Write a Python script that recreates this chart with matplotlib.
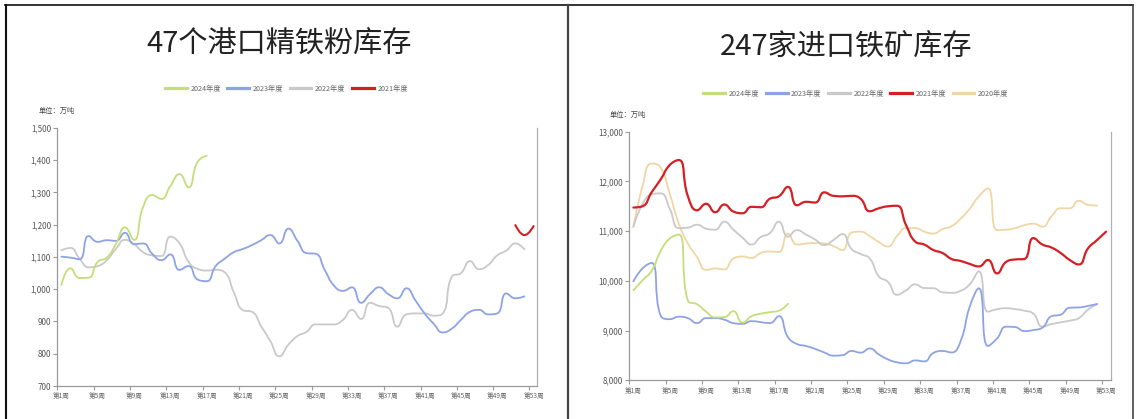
import numpy as np
import matplotlib
matplotlib.use('Agg')
import matplotlib.pyplot as plt
from matplotlib.path import Path
from matplotlib.patches import PathPatch
from matplotlib.lines import Line2D

plt.rcParams['font.family'] = ['Noto Sans CJK SC', 'DejaVu Sans']

# ---------------- data ----------------
tick_weeks = [1, 5, 9, 13, 17, 21, 25, 29, 33, 37, 41, 45, 49, 53]
tick_labels = [f"第{w}周" for w in tick_weeks]

# 47个港口精铁粉库存 (万吨)
p47_2024 = [1013, 1065, 1035, 1036, 1085, 1098, 1140, 1192, 1153, 1255, 1292, 1280,
            1320, 1357, 1316, 1395, 1414]
p47_2023 = [1101, 1098, 1093, 1165, 1147, 1152, 1150, 1175, 1140, 1142, 1110, 1090,
            1108, 1060, 1072, 1030, 1025, 1072, 1095, 1115, 1125, 1137, 1152, 1168,
            1142, 1188, 1150, 1112, 1110, 1060, 1012, 995, 1006, 958, 985, 1006,
            985, 972, 1003, 965, 925, 893, 866, 878, 905, 930, 936, 922, 925, 987,
            972, 978]
p47_2022 = [1121, 1128, 1095, 1068, 1072, 1090, 1125, 1153, 1140, 1115, 1105, 1103,
            1163, 1143, 1085, 1063, 1058, 1060, 1052, 990, 935, 930, 885, 840,
            792, 828, 855, 868, 891, 891, 891, 905, 936, 908, 958, 948, 942, 884,
            922, 925, 925, 918, 925, 1039, 1050, 1087, 1062, 1075, 1105, 1120,
            1142, 1124]
p47_2021_weeks = [51, 52, 53]
p47_2021 = [1199, 1168, 1196]

# 247家进口铁矿库存 (万吨)
m247_2024 = [9810, 10010, 10200, 10600, 10850, 10930, 9600, 9530, 9380, 9265, 9270,
             9390, 9160, 9290, 9340, 9370, 9400, 9540]
m247_2023 = [9990, 10250, 10360, 9300, 9230, 9280, 9250, 9150, 9250, 9250, 9220,
             9150, 9135, 9190, 9170, 9150, 9290, 8870, 8730, 8690, 8630, 8560,
             8495, 8505, 8590, 8556, 8640, 8520, 8420, 8362, 8342, 8400, 8380,
             8550, 8590, 8560, 8790, 9480, 9850, 8690, 8840, 9078, 9070, 8990,
             9010, 9060, 9290, 9320, 9460, 9465, 9495, 9535]
m247_2022 = [11090, 11540, 11740, 11760, 11450, 11060, 11070, 11130, 11050, 11030,
             11190, 11030, 10870, 10730, 10880, 10960, 11190, 10890, 11020, 10930,
             10830, 10720, 10820, 10940, 10640, 10540, 10450, 10090, 9980, 9720,
             9810, 9930, 9855, 9852, 9770, 9760, 9800, 9930, 10190, 9380, 9430,
             9450, 9430, 9400, 9340, 9080, 9130, 9165, 9200, 9250, 9420, 9530]
m247_2021 = [11475, 11500, 11780, 12040, 12330, 12430, 11700, 11420, 11550, 11380,
             11535, 11395, 11360, 11490, 11480, 11650, 11700, 11890, 11520, 11590,
             11575, 11780, 11710, 11700, 11710, 11650, 11400, 11460, 11500, 11510,
             11120, 10790, 10730, 10620, 10560, 10440, 10400, 10340, 10290, 10420,
             10150, 10380, 10430, 10440, 10860, 10730, 10670, 10560, 10420, 10330,
             10650, 10820, 10990]
m247_2020 = [11080, 11900, 12360, 12280, 11750, 11150, 10750, 10480, 10220, 10250,
             10230, 10450, 10490, 10460, 10560, 10590, 10580, 10950, 10730, 10750,
             10760, 10750, 10700, 10620, 10970, 10990, 10900, 10780, 10690, 10900,
             11060, 11060, 10990, 10950, 11040, 11100, 11250, 11450, 11700, 11860,
             11020, 11030, 11060, 11120, 11150, 11090, 11300, 11460, 11460, 11610,
             11530, 11515]

C24, C23, C22, C21, C20 = '#c3de7a', '#8ea3e6', '#c9c9c9', '#d41f24', '#f0d6a4'

W, H = 1136, 419
fig = plt.figure(figsize=(W / 100, H / 100), dpi=100)


def fx(px):
    return px / W


def fy(py):
    return 1 - py / H


def smooth_line(ax, xs, ys, color, lw, smooth=0.5):
    pts = ax.transData.transform(np.column_stack([xs, ys]).astype(float))
    n = len(pts)
    verts = [tuple(pts[0])]
    codes = [Path.MOVETO]
    cp0 = pts[0].copy()
    prev = pts[0]
    for i in range(1, n):
        x, y = pts[i]
        px, py = prev
        if i < n - 1:
            nx, ny = pts[i + 1]
            lp = np.hypot(x - px, y - py)
            ln = np.hypot(nx - x, ny - y)
            r = ln / (ln + lp)
            vx, vy = nx - px, ny - py
            ncx = x + vx * smooth * r
            ncy = y + vy * smooth * r
            ncx = max(min(ncx, max(nx, x)), min(nx, x))
            ncy = max(min(ncy, max(ny, y)), min(ny, y))
            vx, vy = ncx - x, ncy - y
            c1x = x - vx * lp / ln
            c1y = y - vy * lp / ln
            c1x = max(min(c1x, max(px, x)), min(px, x))
            c1y = max(min(c1y, max(py, y)), min(py, y))
            vx, vy = x - c1x, y - c1y
            ncx = x + vx * ln / lp
            ncy = y + vy * ln / lp
        else:
            c1x, c1y = x, y
            ncx, ncy = x, y
        verts += [tuple(cp0), (c1x, c1y), (x, y)]
        codes += [Path.CURVE4] * 3
        cp0 = np.array([ncx, ncy])
        prev = pts[i]
    dverts = ax.transData.inverted().transform(np.array(verts))
    patch = PathPatch(Path(dverts, codes), fill=False, edgecolor=color, lw=lw,
                      transform=ax.transData, capstyle='round', joinstyle='round')
    ax.add_patch(patch)


def setup_axes(rect_px, xright, ylim, yticks, yfmt):
    l, t, r, b = rect_px
    ax = fig.add_axes([fx(l), fy(b), fx(r) - fx(l), fy(t) - fy(b)])
    ax.set_xlim(0.55, xright)
    ax.set_ylim(*ylim)
    for s in ['top']:
        ax.spines[s].set_visible(False)
    for s in ['left', 'bottom']:
        ax.spines[s].set_color('#9a9a9a')
        ax.spines[s].set_linewidth(0.9)
    ax.spines['right'].set_color('#b0b0b0')
    ax.spines['right'].set_linewidth(0.9)
    ax.set_yticks(yticks)
    ax.set_yticklabels([yfmt(v) for v in yticks])
    ax.tick_params(axis='y', length=3, width=0.8, color='#9a9a9a', pad=1.5,
                   labelsize=5.8, labelcolor='#555555', right=False)
    # tick marks at boundaries, labels at week positions
    ax.set_xticks([w - 0.45 for w in tick_weeks], minor=True)
    ax.set_xticks(tick_weeks)
    ax.set_xticklabels(tick_labels)
    ax.tick_params(axis='x', which='minor', length=3, width=0.8, color='#9a9a9a')
    ax.tick_params(axis='x', which='major', length=0, pad=4.5, labelsize=4.8,
                   labelcolor='#666666')
    return ax


# ---------------- left chart ----------------
axL = setup_axes((57.3, 128, 537, 386), 53.38, (700, 1500),
                 list(range(700, 1501, 100)), lambda v: f"{v:,}")
wk = lambda arr: list(range(1, len(arr) + 1))
smooth_line(axL, wk(p47_2022), p47_2022, C22, 1.3)
smooth_line(axL, wk(p47_2023), p47_2023, C23, 1.3)
smooth_line(axL, wk(p47_2024), p47_2024, C24, 1.3)
smooth_line(axL, p47_2021_weeks, p47_2021, C21, 1.5)

# ---------------- right chart ----------------
axR = setup_axes((629.3, 131.7, 1111, 380.3), 53.54, (8000, 13000),
                 list(range(8000, 13001, 1000)), lambda v: f"{v:,}")
smooth_line(axR, wk(m247_2020), m247_2020, C20, 1.3)
smooth_line(axR, wk(m247_2022), m247_2022, C22, 1.3)
smooth_line(axR, wk(m247_2023), m247_2023, C23, 1.3)
smooth_line(axR, wk(m247_2024), m247_2024, C24, 1.3)
smooth_line(axR, wk(m247_2021), m247_2021, C21, 1.6)

# ---------------- titles / units ----------------
fig.text(fx(279), fy(45), "47个港口精铁粉库存", ha='center', va='center',
         fontsize=21, color='#222222')
fig.text(fx(846), fy(47), "247家进口铁矿库存", ha='center', va='center',
         fontsize=21, color='#222222')
fig.text(fx(39), fy(111), "单位：万吨", ha='left', va='center', fontsize=5.2,
         color='#444444')
fig.text(fx(610), fy(115), "单位：万吨", ha='left', va='center', fontsize=5.2,
         color='#444444')


# ---------------- legends ----------------
def make_legend(ax, items, center_px):
    handles = [Line2D([], [], color=c, lw=2.3) for _, c in items]
    labels = [t for t, _ in items]
    leg = ax.legend(handles, labels, loc='center', ncol=len(items),
                    bbox_to_anchor=(fx(center_px[0]), fy(center_px[1])),
                    bbox_transform=fig.transFigure, frameon=False,
                    fontsize=5.2, handlelength=3.0, handletextpad=0.5,
                    columnspacing=0.9, borderpad=0, borderaxespad=0)
    for t in leg.get_texts():
        t.set_color('#666666')


make_legend(axL, [("2024年度", C24), ("2023年度", C23), ("2022年度", C22),
                  ("2021年度", C21)], (286.5, 89))
make_legend(axR, [("2024年度", C24), ("2023年度", C23), ("2022年度", C22),
                  ("2021年度", C21), ("2020年度", C20)], (856, 94))

# ---------------- panel borders ----------------
fig.add_artist(Line2D([fx(5), fx(1133)], [fy(5.5), fy(5.5)], color='#111111', lw=1.2))
fig.add_artist(Line2D([fx(5.5), fx(5.5)], [fy(5.5), fy(419)], color='#111111', lw=1.5))
fig.add_artist(Line2D([fx(568), fx(568)], [fy(5.5), fy(419)], color='#444444', lw=1.6))
fig.add_artist(Line2D([fx(1133), fx(1133)], [fy(5.5), fy(419)], color='#444444', lw=1.2))

fig.savefig('out.png', dpi=100)
